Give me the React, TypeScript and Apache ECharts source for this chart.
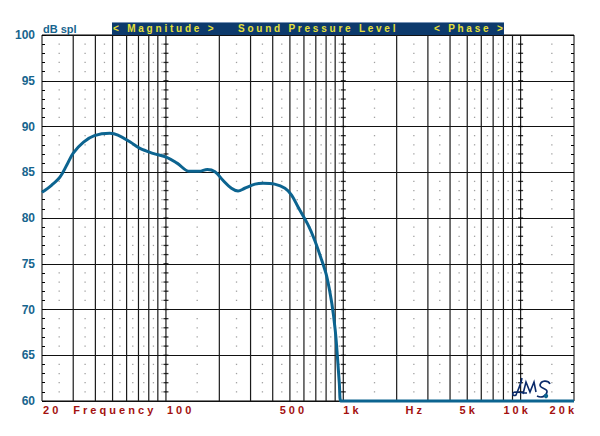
import React, { useEffect, useRef } from "react";
import * as echarts from "echarts";

// Measured response (Hz, dB SPL)
const freqHz = [20, 22.7, 25.3, 27.6, 30, 34.3, 39.5, 48.2, 53.6, 62.9, 71.4, 84.4, 101.7, 115.5, 135.8, 154, 171, 189, 209, 234, 255, 278, 318, 353, 410, 469, 511, 556, 631, 689, 755, 807, 861, 900, 927, 950, 968, 1000, 20000];
const splDb = [82.8, 83.6, 84.5, 85.8, 87.1, 88.3, 89.0, 89.25, 89.07, 88.3, 87.6, 87.07, 86.6, 86.0, 85.1, 85.1, 85.3, 85.06, 84.15, 83.25, 82.95, 83.25, 83.7, 83.8, 83.7, 83.25, 82.5, 81.2, 79.3, 77.6, 75.4, 73.6, 70.7, 67.8, 64.8, 61.9, 60, 60, 60];

// Axis ticks
const xTickValues = [20, 100, 500, 1000, 5000, 10000, 20000];
const xTickLabels = ["20", "100", "500", "1k", "5k", "10k", "20k"];
const gridFreqs = [30, 40, 50, 60, 70, 80, 90, 100, 200, 300, 400, 500, 600, 700, 800, 900, 1000, 2000, 3000, 4000, 5000, 6000, 7000, 8000, 9000, 10000];
const decadeFreqs = [100, 1000, 10000];
const dotFreqs = [25, 35, 45, 55, 65, 75, 85, 95, 150, 250, 350, 450, 550, 650, 750, 850, 950, 1500, 2500, 3500, 4500, 5500, 6500, 7500, 8500, 9500, 15000];
const yMin = 60;
const yMax = 100;
const yStep = 5;

const titleTexts = ["< Magnitude >", "Sound   Pressure   Level", "< Phase >"];
const yAxisTitle = "dB spl";
const freqWord = "Frequency";
const hzWord = "Hz";

const FONT = '"Liberation Sans", Arial, sans-serif';
const spaced = (s: string) => s.split("").join(" ");

export default function App() {
  const ref = useRef<HTMLDivElement>(null);
  useEffect(() => {
    const chart = echarts.init(ref.current!, null, { renderer: "svg" });

    const minorDb: number[] = [];
    for (let d = yMin + 1; d < yMax; d++) if (d % yStep !== 0) minorDb.push(d);
    const allDb: number[] = [];
    for (let d = yMin + 1; d < yMax; d++) allDb.push(d);

    const dots: number[][] = [];
    dotFreqs.forEach((f) => minorDb.forEach((d) => dots.push([f, d])));
    const decTicks: number[][] = [];
    decadeFreqs.forEach((f) => allDb.forEach((d) => decTicks.push([f, d])));

    const vlines = gridFreqs.map((f) => ({
      type: "line",
      data: [
        [f, yMin],
        [f, yMax],
      ],
      symbol: "none",
      silent: true,
      z: 1,
      lineStyle: { color: "#1a1a1a", width: 1.2 },
    }));

    const yAxisCommon = {
      type: "value",
      min: yMin,
      max: yMax,
      interval: yStep,
      axisLine: { show: false },
      axisTick: { show: true, inside: true, length: 4, lineStyle: { color: "#000", width: 1 } },
      minorTick: { show: true, splitNumber: 5, length: 3, lineStyle: { color: "#000", width: 1 } },
    };

    const option: any = {
      animation: false,
      backgroundColor: "#fff",
      grid: {
        left: 42,
        top: 35,
        width: 532,
        height: 366,
        show: true,
        borderColor: "#000",
        borderWidth: 1,
        backgroundColor: "transparent",
        containLabel: false,
      },
      xAxis: {
        type: "log",
        logBase: 10,
        min: 20,
        max: 20000,
        axisLine: { show: false },
        axisTick: { show: false },
        axisLabel: { show: false },
        splitLine: { show: false },
        minorSplitLine: { show: false },
      },
      yAxis: [
        {
          ...yAxisCommon,
          position: "left",
          axisLabel: {
            color: "#17658e",
            fontWeight: "bold",
            fontSize: 12,
            fontFamily: FONT,
            margin: 7,
          },
          splitLine: { show: true, lineStyle: { color: "#111", width: 1.2 } },
        },
        {
          ...yAxisCommon,
          position: "right",
          axisLabel: { show: false },
          splitLine: { show: false },
        },
      ],
      series: [
        ...vlines,
        {
          type: "scatter",
          data: dots,
          symbol: "rect",
          symbolSize: 1.3,
          silent: true,
          z: 2,
          itemStyle: { color: "#8a8a8a" },
        },
        {
          type: "scatter",
          data: decTicks,
          symbol: "rect",
          symbolSize: [5, 1.3],
          silent: true,
          z: 2,
          itemStyle: { color: "#000" },
        },
        {
          type: "line",
          data: freqHz.map((f, i) => [f, splDb[i]]),
          symbol: "none",
          smooth: 0.35,
          clip: false,
          z: 5,
          lineStyle: { color: "#0c6490", width: 3 },
        },
      ],
    };
    chart.setOption(option);

    const px = (v: number) => chart.convertToPixel({ xAxisIndex: 0 }, v) as number;
    const labelAlign = ["left", "left", "center", "left", "center", "center", "right"];
    const labelShift = [1, 1, 2, 0, 0, -5, 0];
    const labelY = 410;
    const xLabelColor = "#a3110f";

    const graphics: any[] = [];
    xTickValues.forEach((v, i) => {
      graphics.push({
        type: "text",
        z: 10,
        style: {
          text: spaced(xTickLabels[i]),
          x: px(v) + labelShift[i],
          y: labelY,
          fill: xLabelColor,
          font: `bold 11px ${FONT}`,
          textAlign: labelAlign[i],
          textVerticalAlign: "middle",
        },
      });
    });
    graphics.push({
      type: "text",
      z: 10,
      style: {
        text: spaced(freqWord),
        x: px(30),
        y: labelY,
        fill: xLabelColor,
        font: `bold 11px ${FONT}`,
        textAlign: "left",
        textVerticalAlign: "middle",
      },
    });
    graphics.push({
      type: "text",
      z: 10,
      style: {
        text: spaced(hzWord),
        x: px(2500),
        y: labelY,
        fill: xLabelColor,
        font: `bold 11px ${FONT}`,
        textAlign: "center",
        textVerticalAlign: "middle",
      },
    });
    // y axis title
    graphics.push({
      type: "text",
      z: 10,
      style: {
        text: yAxisTitle,
        x: 43,
        y: 29,
        fill: "#17658e",
        font: `bold 11px ${FONT}`,
        textAlign: "left",
        textVerticalAlign: "middle",
      },
    });
    // title bar
    graphics.push({
      type: "rect",
      z: 9,
      shape: { x: 112, y: 22, width: 392, height: 13 },
      style: { fill: "#0d3a6c" },
    });
    graphics.push({
      type: "line",
      z: 9,
      shape: { x1: 112, y1: 22.5, x2: 504, y2: 22.5 },
      style: { stroke: "#7893b5", lineWidth: 1 },
    });
    const titleX = [113, 238, 434];
    titleTexts.forEach((t, i) => {
      graphics.push({
        type: "text",
        z: 10,
        style: {
          text: t.split("").map((c) => (c === " " ? "" : c)).join(" ").replace(/ {2,}/g, "   "),
          x: titleX[i],
          y: 28.8,
          fill: "#e6e03a",
          font: `bold 10px ${FONT}`,
          textAlign: "left",
          textVerticalAlign: "middle",
        },
      });
    });

    // LMS logo
    echarts.graphic.registerShape(
      "lmsLogo",
      echarts.graphic.extendPath(
        "M522,378 C521,384 518,390 516,395 C513,397 511,393 515,392 L527,393 M523,394 L526,382 L530,392 L534,382 L536,392 M550,384 C548,380 541,380 540,385 C540,389 548,388 547,392 C546,397 541,398 537,396",
        {}
      ) as any
    );
    graphics.push({
      type: "lmsLogo",
      x: 0,
      y: 0,
      z: 11,
      style: { stroke: "#0a2a6a", fill: null, lineWidth: 1.6 },
    });
    graphics.push({
      type: "circle",
      z: 11,
      shape: { cx: 546, cy: 396, r: 2.2 },
      style: { fill: "#0c6490" },
    });

    chart.setOption({ graphic: { elements: graphics } });

    return () => chart.dispose();
  }, []);
  return (
    <div
      ref={ref}
      style={{ position: "fixed", left: 0, top: 0, width: 600, height: 436, background: "#fff" }}
    />
  );
}
